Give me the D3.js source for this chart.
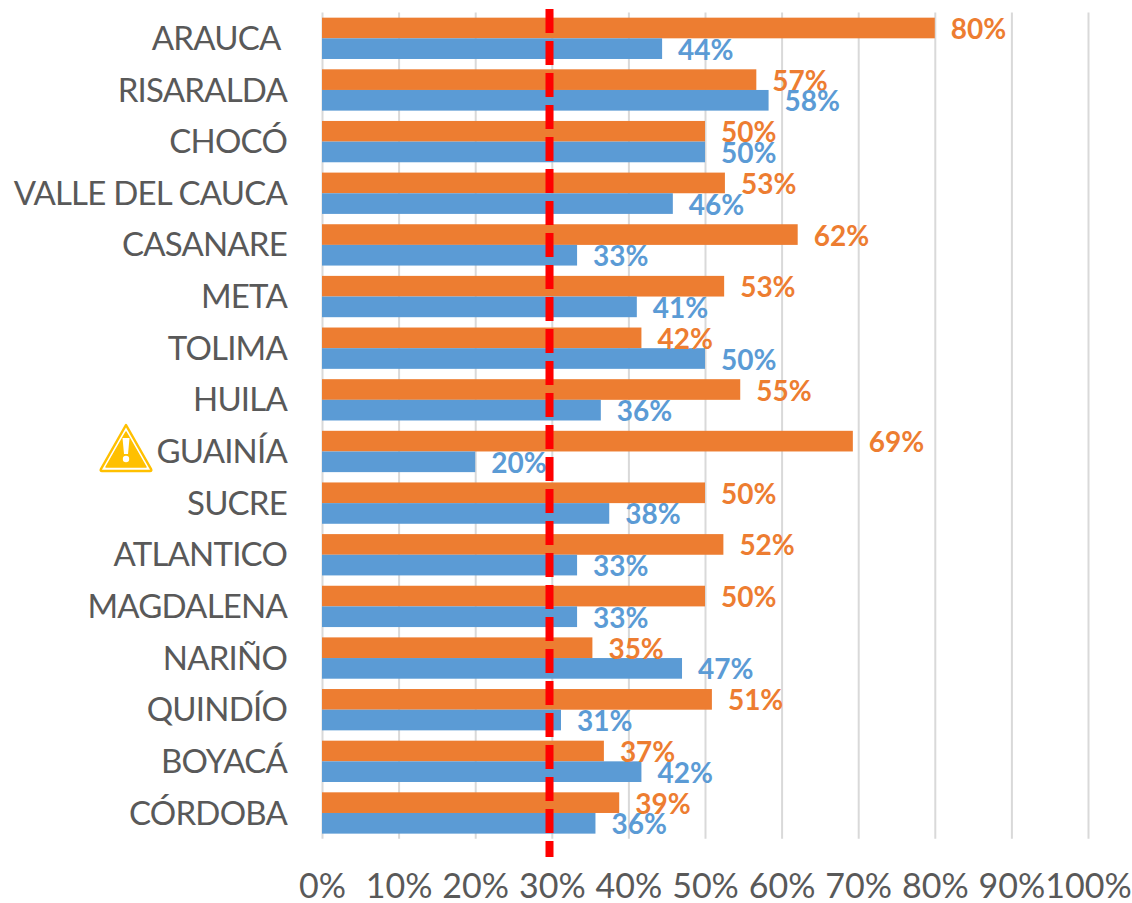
<!DOCTYPE html>
<html>
<head>
<meta charset="utf-8">
<script src="https://cdn.jsdelivr.net/npm/d3@7"></script>
<style>
   html, body { margin: 0; padding: 0; background: #fff; }
   text { font-family: Lato, "Open Sans", sans-serif; white-space: pre; }
</style>
</head>
<body>
<script>
var categories = ["ARAUCA ", "RISARALDA", "CHOCÓ", "VALLE DEL CAUCA", "CASANARE", "META", "TOLIMA", "HUILA",
   "GUAINÍA", "SUCRE", "ATLANTICO", "MAGDALENA", "NARIÑO", "QUINDÍO", "BOYACÁ", "CÓRDOBA"];
var orangeValues = [0.80, 0.567, 0.50, 0.526, 0.621, 0.525, 0.417, 0.546, 0.693, 0.50, 0.524, 0.50, 0.353, 0.509, 0.368, 0.388];
var blueValues = [0.444, 0.583, 0.50, 0.458, 0.333, 0.411, 0.50, 0.364, 0.20, 0.375, 0.333, 0.333, 0.47, 0.312, 0.417, 0.357];
var xTicks = [0, 0.1, 0.2, 0.3, 0.4, 0.5, 0.6, 0.7, 0.8, 0.9, 1];
// the dashed line sits a little left of the 30% gridline in the original
var thresholdValue = 0.297;

var width = 1132, height = 903;
var plotLeft = 322, plotRight = 1088, plotTop = 12.5, plotBottom = 838.8;
var orange = "#ED7D31", blue = "#5B9BD5", textColor = "#595959", gridColor = "#D9D9D9";

var svg = d3.select("body").append("svg")
   .attr("width", width)
   .attr("height", height)
   .style("display", "block");

var x = d3.scaleLinear().domain([0, 1]).range([plotLeft, plotRight]);
var y = d3.scaleBand().domain(categories).range([plotTop, plotBottom]).paddingInner(0.2).paddingOuter(0.1);
var yInner = d3.scaleBand().domain(["orange", "blue"]).range([0, y.bandwidth()]);

// gridlines and x tick labels
var xAxis = svg.append("g")
   .attr("transform", "translate(0," + plotBottom + ")")
   .call(d3.axisBottom(x).tickValues(xTicks).tickFormat(d3.format(".0%")).tickSize(-(plotBottom - plotTop)).tickPadding(35));
xAxis.select(".domain").remove();
xAxis.selectAll("line").attr("stroke", gridColor).attr("stroke-width", 2);
xAxis.selectAll("text")
   .attr("fill", textColor)
   .style("font-size", "34px");

// category labels
var yAxis = svg.append("g")
   .attr("transform", "translate(" + plotLeft + ",1)")
   .call(d3.axisLeft(y).tickSize(0).tickPadding(35));
yAxis.select(".domain").remove();
yAxis.selectAll("text")
   .attr("fill", textColor)
   .style("font-size", "33px")
   .style("letter-spacing", "-0.8px");

// bars
var rows = svg.selectAll("g.row")
   .data(categories)
   .enter().append("g")
   .attr("class", "row")
   .attr("transform", function (d) { return "translate(0," + y(d) + ")"; });

rows.append("rect")
   .attr("x", x(0))
   .attr("y", yInner("orange"))
   .attr("width", function (d, i) { return x(orangeValues[i]) - x(0); })
   .attr("height", yInner.bandwidth())
   .attr("fill", orange);

rows.append("rect")
   .attr("x", x(0))
   .attr("y", yInner("blue"))
   .attr("width", function (d, i) { return x(blueValues[i]) - x(0); })
   .attr("height", yInner.bandwidth())
   .attr("fill", blue);

// threshold line
svg.append("line")
   .attr("x1", x(thresholdValue))
   .attr("x2", x(thresholdValue))
   .attr("y1", 9)
   .attr("y2", 857)
   .attr("stroke", "#FF0000")
   .attr("stroke-width", 8)
   .attr("stroke-dasharray", "24 8");

// value labels go on top of the line
rows.append("text")
   .attr("x", function (d, i) { return x(orangeValues[i]) + 16; })
   .attr("y", yInner("orange") + yInner.bandwidth() / 2 + 11)
   .attr("fill", orange)
   .style("font-size", "28px")
   .style("font-weight", "bold")
   .text(function (d, i) { return d3.format(".0%")(orangeValues[i]); });

rows.append("text")
   .attr("x", function (d, i) { return x(blueValues[i]) + 16; })
   .attr("y", yInner("blue") + yInner.bandwidth() / 2 + 11)
   .attr("fill", blue)
   .style("font-size", "28px")
   .style("font-weight", "bold")
   .text(function (d, i) { return d3.format(".0%")(blueValues[i]); });

// warning sign next to GUAINÍA
var warning = svg.append("g").attr("transform", "translate(126,423)");
warning.append("path")
   .attr("d", "M0,2 L25,46 Q26,48 24,48 L-24,48 Q-26,48 -25,46 Z")
   .attr("fill", "#fff")
   .attr("stroke", "#FFC000")
   .attr("stroke-width", 2.5)
   .attr("stroke-linejoin", "round");
warning.append("path")
   .attr("d", "M0,9 L20,44 L-20,44 Z")
   .attr("fill", "#FFC000")
   .attr("stroke", "#FFC000")
   .attr("stroke-width", 1.5)
   .attr("stroke-linejoin", "round");
warning.append("path")
   .attr("d", "M-3.5,15 L3.5,15 L2,31 L-2,31 Z")
   .attr("fill", "#fff");
warning.append("circle")
   .attr("cx", 0)
   .attr("cy", 36)
   .attr("r", 3.2)
   .attr("fill", "#fff");
</script>
</body>
</html>
